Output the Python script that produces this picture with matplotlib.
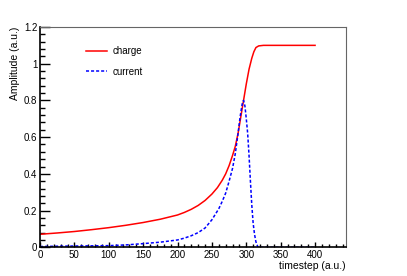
import numpy as np
import matplotlib
matplotlib.use("Agg")
import matplotlib.pyplot as plt
from matplotlib.ticker import MultipleLocator, FixedLocator

plt.rcParams['font.family'] = ['Liberation Sans', 'DejaVu Sans']

# values
t_charge = [0, 25, 50, 75, 100, 125, 150, 175, 200, 210, 220, 230, 240, 250,
            258, 265, 270, 275, 280, 284, 288, 292, 296, 300, 304, 308, 311,
            314, 318, 325, 400]
charge = [0.071, 0.078, 0.086, 0.096, 0.107, 0.12, 0.135, 0.153, 0.176, 0.19,
          0.207, 0.228, 0.255, 0.29, 0.325, 0.365, 0.40, 0.445, 0.50, 0.55,
          0.62, 0.71, 0.80, 0.89, 0.97, 1.03, 1.065, 1.088, 1.097, 1.1, 1.1]

t_current = [0, 25, 50, 75, 100, 125, 150, 175, 200, 210, 220, 230, 240, 250,
             255, 260, 265, 270, 275, 280, 284, 288, 291, 294, 296, 298, 300,
             302, 304, 306, 308, 310, 312, 314, 317, 330, 400]
current = [0.004, 0.006, 0.007, 0.008, 0.009, 0.013, 0.02, 0.028, 0.04, 0.05,
           0.063, 0.08, 0.105, 0.15, 0.18, 0.21, 0.25, 0.295, 0.36, 0.43, 0.51,
           0.62, 0.71, 0.78, 0.80, 0.77, 0.70, 0.62, 0.50, 0.36, 0.23, 0.13,
           0.07, 0.03, 0.0, 0.0, 0.0]

x_major = [0, 50, 100, 150, 200, 250, 300, 350, 400]
y_major = [0, 0.2, 0.4, 0.6, 0.8, 1.0, 1.2]
y_labels = ['0', '0.2', '0.4', '0.6', '0.8', '1', '1.2']

W, H = 407, 276
fig = plt.figure(figsize=(W / 100, H / 100), dpi=100)
ax = fig.add_axes([40 / W, 1 - 247.3 / H, 306 / W, 220.3 / H])

l1, = ax.plot(t_charge, charge, color='#ff0000', lw=1.1)
l2, = ax.plot(t_current, current, color='#0000ff', lw=1.1, ls=(0, (2, 1.3)))

ax.set_xlim(0, 445)
ax.set_ylim(0, 1.2)

ax.xaxis.set_major_locator(FixedLocator(x_major))
ax.xaxis.set_minor_locator(MultipleLocator(10))
ax.yaxis.set_major_locator(FixedLocator(y_major))
ax.set_yticklabels(y_labels)
ax.yaxis.set_minor_locator(MultipleLocator(0.04))

ax.tick_params(axis='both', which='both', direction='in', top=False, right=False,
               labelsize=7, colors='black', pad=2)
ax.tick_params(axis='y', which='major', length=7, width=1)
ax.tick_params(axis='y', which='minor', length=3.6, width=1)
ax.tick_params(axis='x', which='major', length=3.8, width=1)
ax.tick_params(axis='x', which='minor', length=2, width=1)

for s in ['left', 'bottom']:
    ax.spines[s].set_linewidth(1.2)
    ax.spines[s].set_color('black')
for s in ['top', 'right']:
    ax.spines[s].set_linewidth(0.8)
    ax.spines[s].set_color('#666666')

fig.text(346 / W, 1 - 268.7 / H, 'timestep (a.u.)', ha='right', va='baseline', fontsize=7.5)
fig.text(15 / W, 1 - 27 / H, 'Amplitude (a.u.)', ha='center', va='top', rotation=90, fontsize=7.5)

ax.legend([l1, l2], ['charge', 'current'], loc='upper left',
          bbox_to_anchor=(46 / 306, 1 - 19 / 220), frameon=False, fontsize=7,
          handlelength=2.2, handletextpad=0.5, labelspacing=1.1, borderpad=0, borderaxespad=0)

fig.savefig('out.png', dpi=100)
